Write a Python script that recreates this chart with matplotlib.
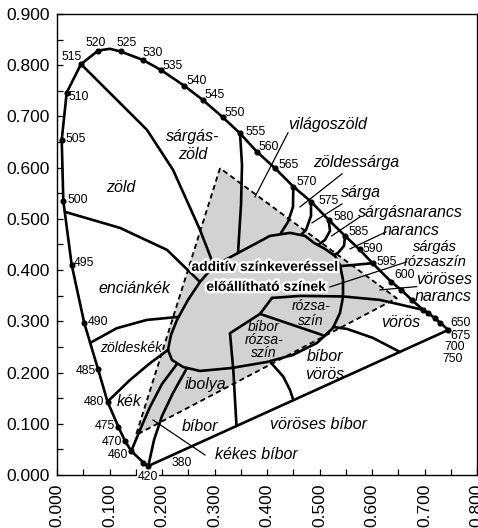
import matplotlib
matplotlib.use('Agg')
import matplotlib.pyplot as plt
from matplotlib import patheffects as pe
from matplotlib.ticker import MultipleLocator, FormatStrFormatter
from matplotlib.patches import Polygon

plt.rcParams['font.family'] = ['Liberation Sans', 'DejaVu Sans']

# ---------------- data (chromaticity coordinates) ----------------
locus_wl = [420, 440, 460, 470, 475, 480, 485, 490, 495, 500, 505, 510, 515, 520, None,
            525, 530, 535, 540, 545, 550, 555, 560, 565, 570, 575, 580, 585, 590, 595,
            600, 605, 610, 620, 630, 640, 650, 700]
locus_x = [0.1739, 0.1644, 0.1415, 0.1295, 0.1168, 0.0962, 0.0781, 0.0520, 0.0280, 0.0120,
           0.0090, 0.0185, 0.0457, 0.0787, 0.1010, 0.1213, 0.1632, 0.1975, 0.2425, 0.2775,
           0.3156, 0.3486, 0.3804, 0.4152, 0.4501, 0.4838, 0.5175, 0.5486, 0.5762, 0.6010,
           0.6362, 0.6558, 0.6756, 0.6977, 0.7072, 0.7200, 0.7295, 0.7453]
locus_y = [0.0176, 0.0244, 0.0469, 0.0664, 0.0943, 0.1432, 0.2070, 0.2963, 0.4102, 0.5352,
           0.6543, 0.7467, 0.8021, 0.8287, 0.8320, 0.8268, 0.8105, 0.7910, 0.7598, 0.7324,
           0.6986, 0.6670, 0.6315, 0.5990, 0.5631, 0.5338, 0.4980, 0.4668, 0.4404, 0.4135,
           0.3775, 0.3613, 0.3418, 0.3223, 0.3158, 0.3061, 0.2975, 0.2832]

# wavelength labels: text, x, y
wl_labels = [("515", 0.0286, 0.8164), ("520", 0.0743, 0.8438), ("525", 0.1333, 0.8438),
             ("530", 0.1829, 0.8242), ("535", 0.2210, 0.7988), ("540", 0.2667, 0.7695),
             ("545", 0.3010, 0.7422), ("550", 0.3390, 0.7070), ("555", 0.3790, 0.6699),
             ("560", 0.4038, 0.6406), ("565", 0.4419, 0.6055), ("570", 0.4762, 0.5723),
             ("575", 0.5181, 0.5352), ("580", 0.5467, 0.5039), ("585", 0.5752, 0.4746),
             ("590", 0.6019, 0.4414), ("595", 0.6286, 0.4160), ("600", 0.6629, 0.3906),
             ("650", 0.7695, 0.2969), ("675", 0.7695, 0.2715), ("700", 0.7581, 0.2500),
             ("750", 0.7543, 0.2266), ("505", 0.0362, 0.6563), ("510", 0.0419, 0.7383),
             ("500", 0.0400, 0.5371), ("495", 0.0514, 0.4141), ("490", 0.0781, 0.2988),
             ("485", 0.0552, 0.2031), ("480", 0.0705, 0.1426), ("475", 0.0914, 0.0957),
             ("470", 0.1048, 0.0645), ("460", 0.1162, 0.0391), ("380", 0.2381, 0.0234)]
label_420 = ("420", 0.1733, -0.0039)

# gamut triangle (G, B, R)
tri_x = [0.3105, 0.1505, 0.6470]
tri_y = [0.5990, 0.0781, 0.3451]

# central region outline
blob_x = [0.2114, 0.2171, 0.2286, 0.2495, 0.2724, 0.2990, 0.3486, 0.4057, 0.4438, 0.4724,
          0.4895, 0.5105, 0.5295, 0.5390, 0.5448, 0.5448, 0.5390, 0.5257, 0.4952, 0.4495,
          0.4000, 0.3333, 0.2724, 0.2400, 0.2190]
blob_y = [0.2441, 0.2734, 0.3027, 0.3418, 0.3770, 0.4082, 0.4355, 0.4668, 0.4727, 0.4668,
          0.4531, 0.4414, 0.4277, 0.4102, 0.3809, 0.3477, 0.3164, 0.2871, 0.2578, 0.2344,
          0.2207, 0.2090, 0.2031, 0.2109, 0.2246]

# colour-name boundaries
b_515 = ([0.0457, 0.1714, 0.2210, 0.2724, 0.2990], [0.8021, 0.6738, 0.5957, 0.4785, 0.4082])
b_500 = ([0.0152, 0.1200, 0.2095, 0.2724], [0.5137, 0.4824, 0.4395, 0.3770])
b_488 = ([0.0629, 0.1137, 0.1708, 0.2305], [0.2578, 0.2865, 0.3027, 0.3086])
b_480 = ([0.0962, 0.1390, 0.1771, 0.2114], [0.1432, 0.1855, 0.2182, 0.2441])
b_460 = ([0.1415, 0.1581, 0.1771, 0.2000, 0.2286], [0.0469, 0.0879, 0.1328, 0.1777, 0.2168])
b_420 = ([0.1739, 0.1848, 0.2000, 0.2210, 0.2476], [0.0176, 0.0684, 0.1152, 0.1602, 0.2090])
b_violet = ([0.3419, 0.3358, 0.3295, 0.3867, 0.4095], [0.0957, 0.2051, 0.2768, 0.3145, 0.3457])
b_pink = ([0.3867, 0.5105], [0.3145, 0.2715])
b_red_orange = ([0.4095, 0.4629, 0.5448, 0.6152, 0.6977], [0.3457, 0.3496, 0.3486, 0.3418, 0.3223])
b_purple_red = ([0.4057, 0.4310, 0.4438, 0.4501], [0.2213, 0.1920, 0.1660, 0.1465])
b_red = ([0.5257, 0.5524, 0.6019, 0.6533], [0.2891, 0.2852, 0.2676, 0.2402])
b_555 = ([0.3486, 0.3524, 0.3505, 0.3448], [0.6670, 0.6055, 0.5273, 0.4336])
b_570 = ([0.4501, 0.4495, 0.4400, 0.4267], [0.5631, 0.5234, 0.4941, 0.4727])
b_575 = ([0.4838, 0.4838, 0.4743, 0.4648], [0.5338, 0.5059, 0.4785, 0.4688])
b_580 = ([0.5175, 0.5200, 0.5105, 0.4971], [0.4980, 0.4766, 0.4590, 0.4492])
b_585 = ([0.5486, 0.5467, 0.5352, 0.5276], [0.4668, 0.4473, 0.4336, 0.4297])
b_595 = ([0.6010, 0.5448, 0.5200], [0.4135, 0.4082, 0.4082])
boundaries = [b_515, b_500, b_488, b_480, b_460, b_420, b_violet, b_pink, b_red_orange,
              b_purple_red, b_red, b_555, b_570, b_575, b_580, b_585, b_595]

# leader lines
leaders = [([0.4400, 0.3771], [0.6680, 0.5430]),
           ([0.5429, 0.4629], [0.5879, 0.5234]),
           ([0.5429, 0.4857], [0.5293, 0.4922]),
           ([0.5771, 0.5232], [0.5039, 0.4668]),
           ([0.6267, 0.5581], [0.4746, 0.4414]),
           ([0.6661, 0.5200], [0.4160, 0.3672]),
           ([0.6851, 0.6152], [0.3678, 0.3613]),
           ([0.2819, 0.1829], [0.0391, 0.1074])]

# colour names: text, x, y, size class
names = [("sárgás-", 0.2590, 0.6602, 'L'), ("zöld", 0.2590, 0.6250, 'L'),
         ("világoszöld", 0.5162, 0.6836, 'L'), ("zöld", 0.1219, 0.5605, 'L'),
         ("zöldessárga", 0.5695, 0.6094, 'L'), ("sárga", 0.5790, 0.5508, 'L'),
         ("sárgásnarancs", 0.6724, 0.5117, 'L'), ("narancs", 0.6743, 0.4766, 'L'),
         ("sárgás", 0.7200, 0.4453, 'M'), ("rózsaszín", 0.7200, 0.4160, 'M'),
         ("vöröses", 0.7371, 0.3809, 'L'), ("narancs", 0.7352, 0.3477, 'L'),
         ("vörös", 0.6552, 0.2969, 'L'), ("bíbor", 0.5105, 0.2305, 'L'),
         ("vörös", 0.5105, 0.1953, 'L'), ("vöröses bíbor", 0.4990, 0.0977, 'L'),
         ("kékes bíbor", 0.3790, 0.0391, 'L'), ("bíbor", 0.2724, 0.0938, 'L'),
         ("ibolya", 0.2838, 0.1758, 'L'), ("kék", 0.1371, 0.1426, 'L'),
         ("zöldeskék", 0.1410, 0.2480, 'S'), ("enciánkék", 0.1467, 0.3633, 'L'),
         ("rózsa-", 0.4838, 0.3291, 'S'), ("szín", 0.4838, 0.2998, 'S'),
         ("bíbor", 0.3943, 0.2891, 'S'), ("rózsa-", 0.3943, 0.2637, 'S'),
         ("szín", 0.3943, 0.2383, 'S')]
center_label = ("additív színkeveréssel", "előállítható színek")
center_pos = [(0.3962, 0.4063), (0.3981, 0.3672)]

# ---------------- drawing ----------------
fig = plt.figure(figsize=(4.78, 5.28), dpi=100)
ax = fig.add_axes([57/478, 1-475/528, 420/478, 461/528])
ax.set_xlim(0, 0.8)
ax.set_ylim(0, 0.9)

gray = '#d2d2d2'
ax.add_patch(Polygon(list(zip(tri_x, tri_y)), closed=True, facecolor=gray,
                     edgecolor='none', zorder=1))
ax.add_patch(Polygon(list(zip(blob_x, blob_y)), closed=True, facecolor=gray,
                     edgecolor='none', zorder=1))
ax.plot(tri_x + tri_x[:1], tri_y + tri_y[:1], color='black', lw=1.35,
        linestyle=(0, (2.8, 1.9)), zorder=2)

for xs, ys in boundaries:
    ax.plot(xs, ys, color='black', lw=1.9, solid_capstyle='round',
            solid_joinstyle='round', zorder=3)
ax.plot(blob_x + blob_x[:1], blob_y + blob_y[:1], color='black', lw=1.9,
        solid_joinstyle='round', zorder=3)
for xs, ys in leaders:
    ax.plot(xs, ys, color='black', lw=0.9, zorder=3)

# spectral locus + purple line
ax.plot(locus_x + locus_x[:1], locus_y + locus_y[:1], color='black', lw=1.9,
        solid_joinstyle='round', zorder=4)
dx = [x for x, w in zip(locus_x, locus_wl) if w is not None]
dy = [y for y, w in zip(locus_y, locus_wl) if w is not None]
ax.plot(dx, dy, 'o', color='black', ms=3.4, zorder=5)

for t, x, y in wl_labels:
    ax.text(x, y, t, fontsize=8.8, ha='center', va='center', zorder=6)
ax.text(label_420[1], label_420[2], label_420[0], fontsize=8.8, ha='center', va='center',
        zorder=6, clip_on=False,
        bbox=dict(facecolor='white', edgecolor='none', pad=0.5))

sizes = {'L': 11.5, 'M': 10.5, 'S': 10}
for t, x, y, s in names:
    ax.text(x, y, t, fontsize=sizes[s], style='italic', ha='center', va='center', zorder=6)

for t, (x, y) in zip(center_label, center_pos):
    ax.text(x, y, t, fontsize=10, fontweight='bold', ha='center', va='center', zorder=7,
            path_effects=[pe.withStroke(linewidth=3.5, foreground='white')])

# axes styling
ax.xaxis.set_major_locator(MultipleLocator(0.1))
ax.xaxis.set_minor_locator(MultipleLocator(0.05))
ax.yaxis.set_major_locator(MultipleLocator(0.1))
ax.yaxis.set_minor_locator(MultipleLocator(0.05))
ax.xaxis.set_major_formatter(FormatStrFormatter('%.3f'))
ax.yaxis.set_major_formatter(FormatStrFormatter('%.3f'))
ax.tick_params(which='both', direction='in', length=4.5, width=0.9, top=False, right=False)
ax.tick_params(axis='both', labelsize=12.5)
ax.tick_params(axis='y', pad=5)
ax.tick_params(axis='x', pad=6)
for lab in ax.get_xticklabels():
    lab.set_rotation(90)
for sp in ax.spines.values():
    sp.set_linewidth(1.0)

fig.savefig('out.png', dpi=100)
